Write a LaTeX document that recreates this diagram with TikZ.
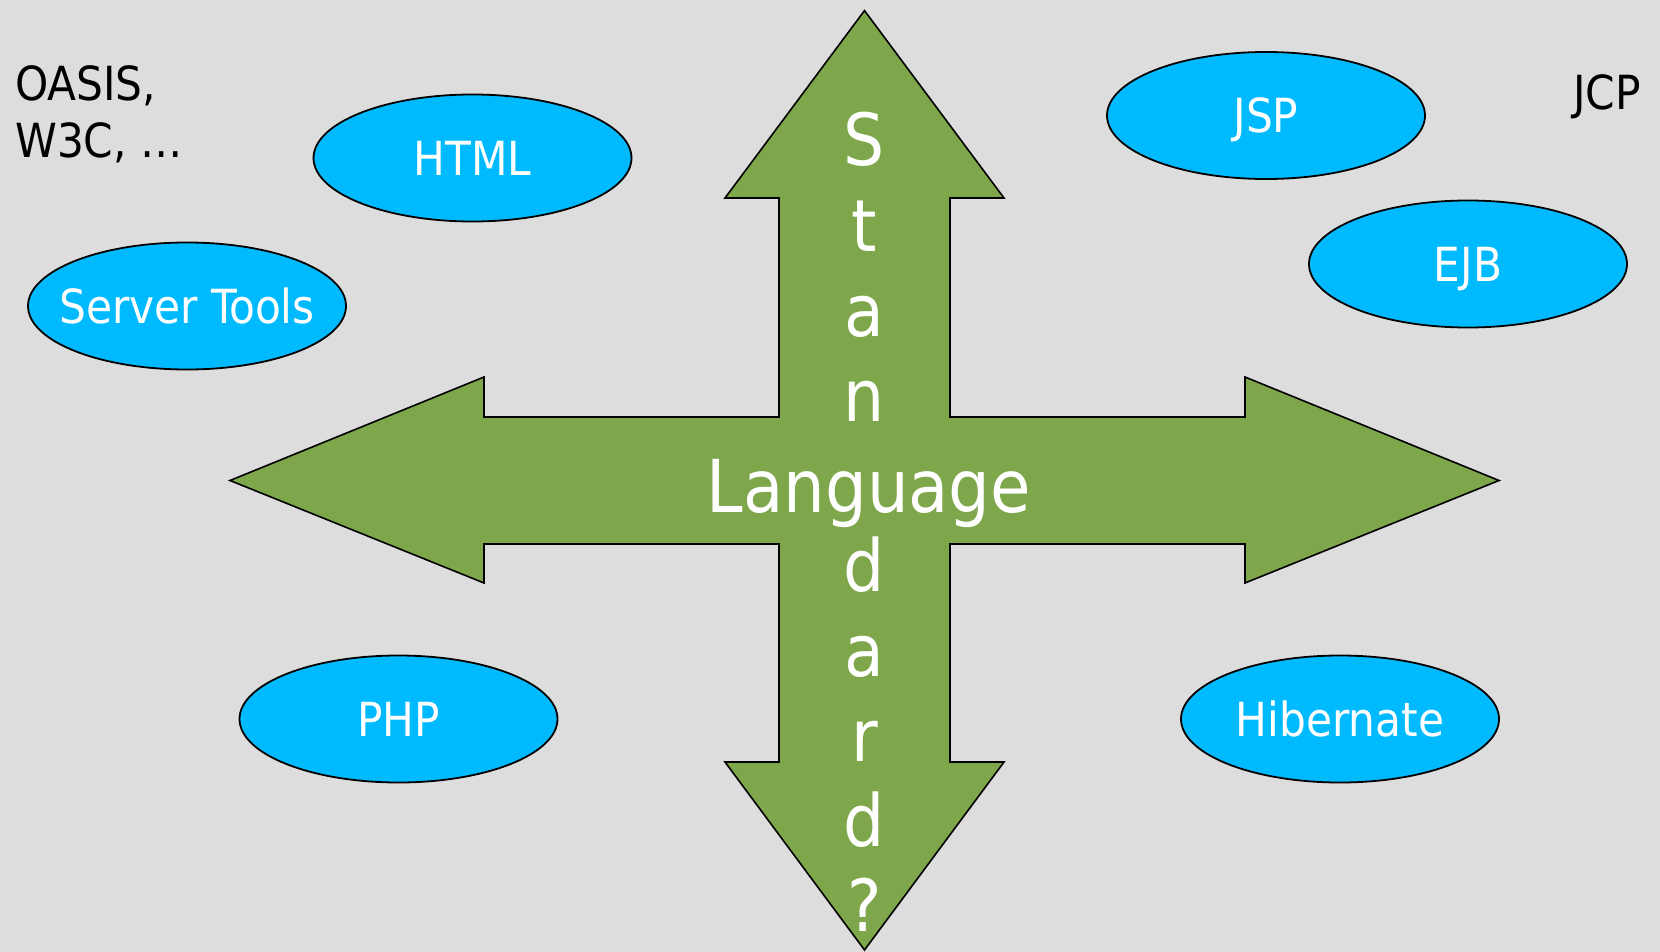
\documentclass[tikz,border=0pt]{standalone}
\usepackage{fontspec}
\setmainfont{DejaVu Sans Condensed}
\usetikzlibrary{shapes.geometric}
\definecolor{bggray}{HTML}{DDDDDD}
\definecolor{arrowgreen}{HTML}{7EA64A}
\definecolor{ellblue}{HTML}{00BAFF}
\newcommand{\zw}[1]{\makebox[0pt]{#1}}
\tikzset{
  techell/.style={ellipse, draw=black, line width=1.8pt, fill=ellblue, minimum width=318pt, minimum height=127pt, inner sep=0pt, text height=34.3pt, text depth=0pt, text=white, font=\fontsize{47}{56}\selectfont},
  plaintext/.style={inner sep=0pt, text=black, font=\fontsize{47}{57}\selectfont},
  stdletter/.style={inner sep=0pt, anchor=base, text=white, font=\fontsize{72}{80}\selectfont}
}
\begin{document}
\begin{tikzpicture}[x=1pt,y=-1pt]
\fill[bggray] (0,0) rectangle (1660,952);
\useasboundingbox (0,0) rectangle (1660,952);
% cross arrow
\draw[fill=arrowgreen, draw=black, line width=1.6pt, line join=miter]
  (864.5,10.6) -- (1004,198) -- (950,198) -- (950,417) -- (1245,417) -- (1245,377)
  -- (1499,480.5) -- (1245,583) -- (1245,544) -- (950,544) -- (950,762) -- (1004,762)
  -- (864.5,950) -- (725,762) -- (779,762) -- (779,544) -- (484,544) -- (484,583)
  -- (230,480.5) -- (484,377) -- (484,417) -- (779,417) -- (779,198) -- (725,198) -- cycle;
% vertical word
\foreach \ch/\i [count=\k] in {S/0,t/1,a/2,n/3,d/5,a/6,r/7,d/8,?/9} {
  \node[stdletter] (std\k) at (864.5,{166+\i*85.1}) {\ch};
}
\node[inner sep=0pt, anchor=base, text=white, font=\fontsize{73}{80}\selectfont] (lang) at (869,512) {Language};
% ellipses
\node[techell] (html) at (472.5,158) {\zw{HTML}};
\node[techell] (server) at (187,306) {\zw{Server Tools}};
\node[techell] (php) at (398.5,719) {\zw{PHP}};
\node[techell] (jsp) at (1266,115.5) {\zw{JSP}};
\node[techell] (ejb) at (1468,264) {\zw{EJB}};
\node[techell] (hib) at (1340,719) {\zw{Hibernate}};
% plain texts
\node[plaintext, anchor=base west] (oasis1) at (15,101) {OASIS,};
\node[plaintext, anchor=base west] (oasis2) at (15,158) {W3C, \dots};
\node[plaintext, anchor=base west] (jcp) at (1573,110) {JCP};
\end{tikzpicture}
\end{document}
